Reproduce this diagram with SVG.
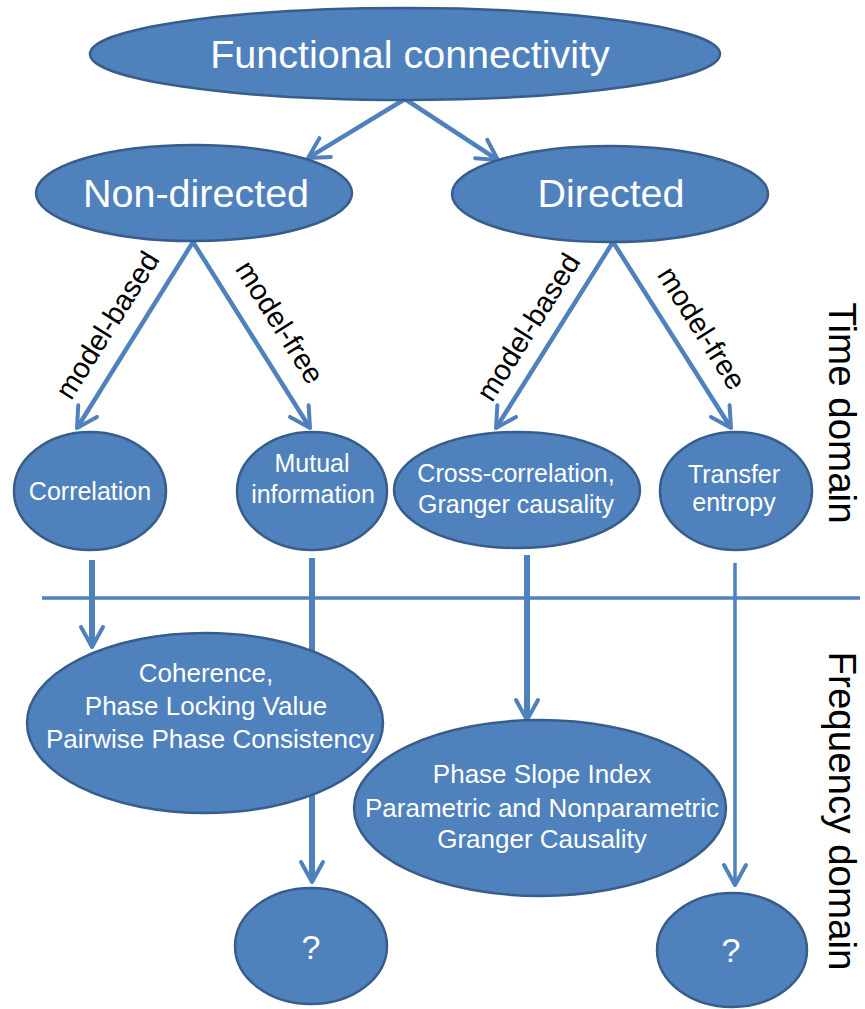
<svg xmlns="http://www.w3.org/2000/svg" width="865" height="1009" viewBox="0 0 865 1009">
<style>
.node{fill:#4F81BD;stroke:#385D8A;stroke-width:2.5}
.big{font-family:"Liberation Sans",Arial,sans-serif;font-size:39.5px;fill:#fff;text-anchor:middle}
.sm{font-family:"Liberation Sans",Arial,sans-serif;font-size:25px;fill:#fff;text-anchor:middle}
.md{font-family:"Liberation Sans",Arial,sans-serif;font-size:26px;fill:#fff;text-anchor:middle}
.q{font-family:"Liberation Sans",Arial,sans-serif;font-size:34px;fill:#fff;text-anchor:middle}
.lbl{font-family:"Liberation Sans",Arial,sans-serif;font-size:29px;fill:#000;text-anchor:middle}
.dom{font-family:"Liberation Sans",Arial,sans-serif;font-size:38.5px;fill:#000;text-anchor:middle}
.c{fill:none;stroke:#4F81BD;stroke-width:4.5}
.cv{fill:none;stroke:#4F81BD;stroke-width:6}
.ct{fill:none;stroke:#4F81BD;stroke-width:3.5}
</style>
<defs>
<marker id="ah" markerUnits="userSpaceOnUse" markerWidth="26" markerHeight="28" viewBox="-23 -14 26 28" refX="-3" refY="0" orient="auto" overflow="visible">
<path d="M-20,-11 L0,0 L-20,11" fill="none" stroke="#4F81BD" stroke-width="4" stroke-linecap="round" stroke-linejoin="round"/>
</marker>
</defs>
<g id="connectors">
<line x1="405" y1="99" x2="310.6" y2="156.4" class="c" marker-end="url(#ah)"/>
<line x1="405" y1="99" x2="495.4" y2="158.3" class="c" marker-end="url(#ah)"/>
<line x1="193" y1="242" x2="78.6" y2="425.5" class="c" marker-end="url(#ah)"/>
<line x1="193" y1="242" x2="308.4" y2="425.5" class="c" marker-end="url(#ah)"/>
<line x1="613" y1="242" x2="497.6" y2="425.5" class="c" marker-end="url(#ah)"/>
<line x1="613" y1="242" x2="729.4" y2="425.5" class="c" marker-end="url(#ah)"/>
<line x1="42" y1="598" x2="860" y2="598" class="ct" stroke-width="4"/>
<line x1="92" y1="560" x2="92" y2="644" class="cv" marker-end="url(#ah)"/>
<line x1="312" y1="558" x2="312" y2="879" class="cv" marker-end="url(#ah)"/>
<line x1="527" y1="555" x2="527" y2="717" class="cv" marker-end="url(#ah)"/>
<line x1="735" y1="563" x2="735" y2="882" class="ct" marker-end="url(#ah)"/>
</g>
<g id="labels">
<text class="lbl" transform="translate(107,325) rotate(-57.8)" dy="0.35em">model-based</text>
<text class="lbl" transform="translate(280,322) rotate(57.8)" dy="0.35em">model-free</text>
<text class="lbl" transform="translate(528,327) rotate(-57.8)" dy="0.35em">model-based</text>
<text class="lbl" transform="translate(702,328) rotate(57.8)" dy="0.35em">model-free</text>
<text class="dom" transform="translate(829,413) rotate(90)">Time domain</text>
<text class="dom" transform="translate(829,811) rotate(90)">Frequency domain</text>
</g>
<g id="n-fc"><ellipse class="node" cx="405" cy="54" rx="315" ry="46"/><text class="big" x="410" y="68">Functional connectivity</text></g>
<g id="n-nondirected"><ellipse class="node" cx="194" cy="193" rx="158" ry="48"/><text class="big" x="196" y="207">Non-directed</text></g>
<g id="n-directed"><ellipse class="node" cx="610" cy="194" rx="158" ry="48"/><text class="big" x="611" y="207">Directed</text></g>
<g id="n-correlation"><ellipse class="node" cx="90" cy="491" rx="76" ry="59"/><text class="sm" x="90" y="500">Correlation</text></g>
<g id="n-mutual"><ellipse class="node" cx="312" cy="491" rx="75" ry="59"/><text class="sm" x="312" y="472">Mutual</text><text class="sm" x="313" y="503">information</text></g>
<g id="n-cross"><ellipse class="node" cx="517" cy="490" rx="123" ry="58"/><text class="sm" x="516" y="482">Cross-correlation,</text><text class="sm" x="516" y="513">Granger causality</text></g>
<g id="n-transfer"><ellipse class="node" cx="736" cy="491" rx="76" ry="59"/><text class="sm" x="734" y="483">Transfer</text><text class="sm" x="734" y="511">entropy</text></g>
<g id="n-coherence"><ellipse class="node" cx="205" cy="723" rx="178" ry="90"/><text class="md" x="206" y="682">Coherence,</text><text class="md" x="206" y="715">Phase Locking Value</text><text class="md" x="210" y="748">Pairwise Phase Consistency</text></g>
<g id="n-psi"><ellipse class="node" cx="540" cy="808" rx="186" ry="88"/><text class="md" x="542" y="783">Phase Slope Index</text><text class="md" x="542" y="817">Parametric and Nonparametric</text><text class="md" x="542" y="848">Granger Causality</text></g>
<g id="n-q1"><ellipse class="node" cx="311" cy="946" rx="76" ry="58"/><text class="q" x="311" y="959">?</text></g>
<g id="n-q2"><ellipse class="node" cx="732" cy="950" rx="75" ry="57"/><text class="q" x="731" y="962">?</text></g>
</svg>
